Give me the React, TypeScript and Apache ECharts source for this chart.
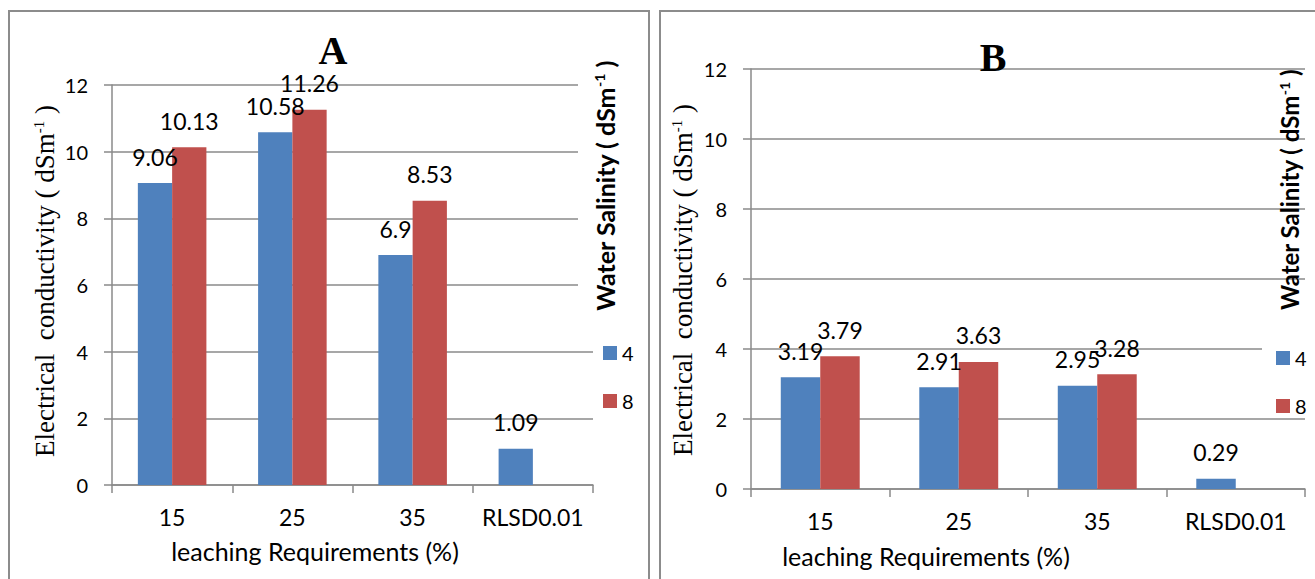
import React, { useEffect, useRef } from 'react';
import * as echarts from 'echarts';

const categories = ['15', '25', '35', 'RLSD0.01'];
const seriesNames = ['4', '8'];
const panelA_ws4 = [9.06, 10.58, 6.9, 1.09];
const panelA_ws8 = [10.13, 11.26, 8.53, null];
const panelB_ws4 = [3.19, 2.91, 2.95, 0.29];
const panelB_ws8 = [3.79, 3.63, 3.28, null];
const yMin = 0;
const yMax = 12;
const yInterval = 2;

const BLUE = '#4F81BD';
const RED = '#C0504D';
const GRID_COLOR = '#8a8a8a';
const SANS = 'Lato';
const SERIF = 'Liberation Serif';

function xAxisFor(gridIndex: number) {
  return {
    type: 'category',
    gridIndex,
    data: categories,
    axisLine: { show: true, lineStyle: { color: GRID_COLOR, width: 1.5 } },
    axisTick: { show: true, length: 8, lineStyle: { color: GRID_COLOR, width: 1.5 } },
    axisLabel: { interval: 0, fontFamily: SANS, fontSize: 23, color: '#000', margin: 20 },
  };
}

function yAxisFor(gridIndex: number) {
  return {
    type: 'value',
    gridIndex,
    min: yMin,
    max: yMax,
    interval: yInterval,
    axisLine: { show: true, lineStyle: { color: GRID_COLOR, width: 1.5 } },
    axisTick: { show: true, length: 8, lineStyle: { color: GRID_COLOR, width: 1.5 } },
    splitLine: { show: true, lineStyle: { color: GRID_COLOR, width: 1.5 } },
    axisLabel: { fontFamily: SANS, fontSize: 20, color: '#000', margin: 24 },
  };
}

function barSeries(name: string, data: (number | null)[], color: string, idx: number) {
  return {
    type: 'bar',
    name,
    data,
    xAxisIndex: idx,
    yAxisIndex: idx,
    barGap: '0%',
    barCategoryGap: '43%',
    itemStyle: { color },
    label: {
      show: true,
      position: 'top',
      distance: 15,
      fontFamily: SANS,
      fontSize: 23,
      color: '#000',
    },
  };
}

function yTitle(x: number, y: number) {
  return {
    type: 'text',
    x,
    y,
    rotation: Math.PI / 2,
    z: 20,
    style: {
      text: '{a|Electrical  conductivity ( dSm}{s|-1}{a| )}',
      align: 'center',
      verticalAlign: 'middle',
      font: '27px "Liberation Serif", serif',
      fill: '#000',
      rich: {
        a: { font: '27px "Liberation Serif", serif', fill: '#000' },
        s: { font: '15px "Liberation Serif", serif', fill: '#000', verticalAlign: 'top' },
      },
    },
  };
}

function legendTitle(x: number, y: number, size: number) {
  return {
    type: 'text',
    x,
    y,
    rotation: Math.PI / 2,
    z: 20,
    style: {
      text: '{a|Water Salinity ( dSm}{s|-1}{a| )}',
      align: 'center',
      verticalAlign: 'middle',
      font: `bold ${size}px Lato`,
      fill: '#000',
      rich: {
        a: { font: `bold ${size}px Lato`, fill: '#000' },
        s: { font: 'bold 14px Lato', fill: '#000', verticalAlign: 'top' },
      },
    },
  };
}

function xName(x: number, y: number) {
  return {
    type: 'text',
    x,
    y,
    z: 20,
    style: {
      text: 'leaching Requirements (%)',
      align: 'center',
      verticalAlign: 'middle',
      fontFamily: SANS,
      fontSize: 25,
      fill: '#000',
    },
  };
}

function panelTitle(t: string, x: number, y: number) {
  return {
    type: 'text',
    x,
    y,
    z: 20,
    style: {
      text: t,
      align: 'center',
      verticalAlign: 'middle',
      fontFamily: SERIF,
      fontWeight: 'bold',
      fontSize: 40,
      fill: '#000',
    },
  };
}

function legendFor(left: number, top: number) {
  return {
    orient: 'vertical',
    left,
    top,
    data: seriesNames,
    icon: 'rect',
    itemWidth: 14,
    itemHeight: 14,
    itemGap: 28,
    selectedMode: false,
    textStyle: { fontFamily: SANS, fontSize: 20, color: '#000' },
  };
}

export default function App() {
  const ref = useRef<HTMLDivElement>(null);
  useEffect(() => {
    if (!ref.current) return;
    const chart = echarts.init(ref.current, undefined, { renderer: 'svg' });
    chart.setOption({
      animation: false,
      backgroundColor: '#fff',
      grid: [
        { left: 112, top: 85, width: 481, height: 400 },
        { left: 751, top: 69, width: 554, height: 420 },
      ],
      xAxis: [xAxisFor(0), xAxisFor(1)],
      yAxis: [yAxisFor(0), yAxisFor(1)],
      legend: [legendFor(598, 338), legendFor(1271, 343)],
      series: [
        barSeries(seriesNames[0], panelA_ws4, BLUE, 0),
        barSeries(seriesNames[1], panelA_ws8, RED, 0),
        barSeries(seriesNames[0], panelB_ws4, BLUE, 1),
        barSeries(seriesNames[1], panelB_ws8, RED, 1),
      ],
      graphic: [
        {
          type: 'rect',
          z: 1,
          shape: { x: 9, y: 11, width: 640, height: 600 },
          style: { fill: 'none', stroke: '#8c8c8c', lineWidth: 2 },
        },
        {
          type: 'rect',
          z: 1,
          shape: { x: 660, y: 11, width: 700, height: 600 },
          style: { fill: 'none', stroke: '#8c8c8c', lineWidth: 2 },
        },
        {
          type: 'rect',
          z: 3,
          shape: { x: 578, y: 60, width: 20, height: 272 },
          style: { fill: '#fff' },
        },
        {
          type: 'rect',
          z: 3,
          shape: { x: 1262, y: 338, width: 44, height: 22 },
          style: { fill: '#fff' },
        },
        panelTitle('A', 333, 50),
        panelTitle('B', 993, 57),
        yTitle(45, 281),
        yTitle(683, 280),
        xName(315, 551),
        xName(926, 556),
        legendTitle(605, 186, 25),
        legendTitle(1289, 190, 24),
      ],
    });
    return () => chart.dispose();
  }, []);
  return (
    <div
      ref={ref}
      style={{ position: 'absolute', left: 0, top: 0, width: 1315, height: 579 }}
    />
  );
}
